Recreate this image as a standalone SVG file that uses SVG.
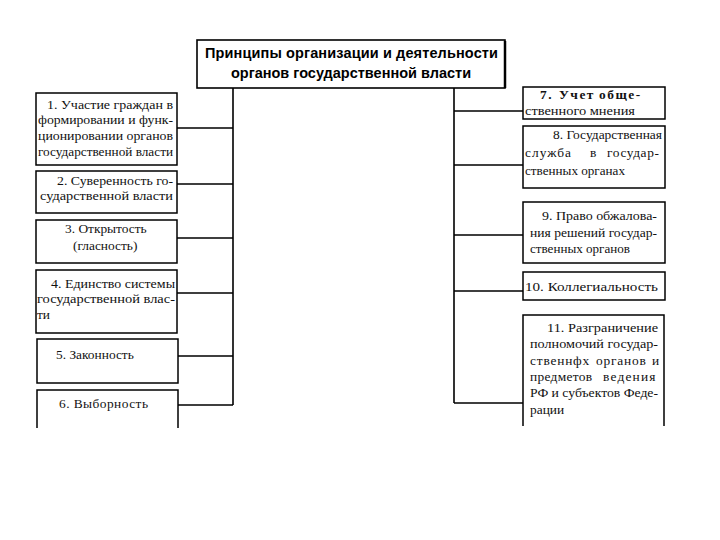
<svg xmlns="http://www.w3.org/2000/svg" width="720" height="540" viewBox="0 0 720 540">
<style>
.bx{fill:#fff;stroke:#000;stroke-width:1.5}
.ln{fill:none;stroke:#000;stroke-width:1.6}
.t{font-family:"Liberation Serif","Times New Roman",serif;font-size:13.4px;fill:#111}
.tt{font-family:"Liberation Sans",Arial,sans-serif;font-size:14.5px;font-weight:bold;fill:#000}
</style>
<rect width="720" height="540" fill="#fff"/>
<g id="connectors">
<path class="ln" d="M233,88 V405 M177,128 H233 M177,184 H233 M177,238 H233 M177,293 H233 M178,356 H233 M178,405 H233"/>
<path class="ln" d="M454,88 V403 M454,111 H523 M454,165 H523 M454,235 H523 M454,291 H523 M454,403 H523"/>
</g>
<g id="title">
<rect x="197" y="40" width="308" height="48" fill="#fff" stroke="#000" stroke-width="1.6"/>
<line x1="505" y1="41" x2="505" y2="88" stroke="#000" stroke-width="2.5"/>
<text class="tt" x="205" y="58" textLength="293" lengthAdjust="spacing">Принципы организации и деятельности</text>
<text class="tt" x="351" y="78" text-anchor="middle">органов государственной власти</text>
</g>
<g id="n1">
<rect class="bx" x="36" y="93" width="141" height="72"/>
<text class="t" x="47" y="109" textLength="126" lengthAdjust="spacingAndGlyphs">1. Участие граждан в</text>
<text class="t" x="38" y="124" textLength="135" lengthAdjust="spacingAndGlyphs">формировании и функ-</text>
<text class="t" x="38" y="140" textLength="135" lengthAdjust="spacingAndGlyphs">ционировании органов</text>
<text class="t" x="38" y="156" textLength="135" lengthAdjust="spacingAndGlyphs">государственной власти</text>
</g>
<g id="n2">
<rect class="bx" x="36" y="171" width="141" height="42"/>
<text class="t" x="57" y="185" textLength="116" lengthAdjust="spacingAndGlyphs">2. Суверенность го-</text>
<text class="t" x="40" y="200" textLength="133" lengthAdjust="spacingAndGlyphs">сударственной власти</text>
</g>
<g id="n3">
<rect class="bx" x="36" y="220" width="141" height="43"/>
<text class="t" x="65" y="233">3. Открытость</text>
<text class="t" x="73" y="250">(гласность)</text>
</g>
<g id="n4">
<rect class="bx" x="36" y="270" width="141" height="63"/>
<text class="t" x="51" y="288" textLength="124" lengthAdjust="spacingAndGlyphs">4. Единство системы</text>
<text class="t" x="37" y="303" textLength="138" lengthAdjust="spacingAndGlyphs">государственной влас-</text>
<text class="t" x="37" y="319">ти</text>
</g>
<g id="n5">
<rect class="bx" x="37" y="339" width="141" height="44"/>
<text class="t" x="56" y="359">5. Законность</text>
</g>
<g id="n6">
<path class="bx" d="M37,428 V390 H178 V428"/>
<text class="t" x="59" y="408" textLength="89" lengthAdjust="spacing">6.  Выборность</text>
</g>
<g id="n7">
<rect class="bx" x="523" y="87" width="142" height="32"/>
<text class="t" y="99" font-weight="bold" letter-spacing="1.5"><tspan x="540">7.</tspan><tspan x="559">Учет</tspan><tspan x="599">обще-</tspan></text>
<text class="t" x="525" y="115" font-size="12.5px" textLength="110" lengthAdjust="spacingAndGlyphs">ственного мнения</text>
</g>
<g id="n8">
<rect class="bx" x="523" y="126" width="142" height="62"/>
<text class="t" x="553" y="139" textLength="109" lengthAdjust="spacingAndGlyphs">8. Государственная</text>
<text class="t" y="157"><tspan x="525" letter-spacing="1">служба</tspan><tspan x="590">в</tspan><tspan x="607" letter-spacing="0.6">государ-</tspan></text>
<text class="t" x="525" y="175" font-size="12px" textLength="100" lengthAdjust="spacingAndGlyphs">ственных органах</text>
</g>
<g id="n9">
<rect class="bx" x="523" y="202" width="142" height="61"/>
<text class="t" x="542" y="220" textLength="115" lengthAdjust="spacingAndGlyphs">9. Право обжалова-</text>
<text class="t" x="530" y="237" textLength="127" lengthAdjust="spacingAndGlyphs">ния решений государ-</text>
<text class="t" x="530" y="253" textLength="100" lengthAdjust="spacingAndGlyphs">ственных органов</text>
</g>
<g id="n10">
<rect class="bx" x="523" y="272" width="142" height="28"/>
<text class="t" x="525" y="291" textLength="133" lengthAdjust="spacingAndGlyphs">10. Коллегиальность</text>
</g>
<g id="n11">
<path class="bx" d="M523,426 V315 H664 V426"/>
<text class="t" x="547" y="332" textLength="111" lengthAdjust="spacingAndGlyphs">11. Разграничение</text>
<text class="t" x="530" y="348" textLength="128" lengthAdjust="spacingAndGlyphs">полномочий государ-</text>
<text class="t" y="365"><tspan x="530" letter-spacing="0.8">ственнфх</tspan><tspan x="596" letter-spacing="0.8">органов</tspan><tspan x="652">и</tspan></text>
<text class="t" y="381"><tspan x="530" letter-spacing="0.3">предметов</tspan><tspan x="603" letter-spacing="1.2">ведения</tspan></text>
<text class="t" x="530" y="397" textLength="128" lengthAdjust="spacingAndGlyphs">РФ и субъектов Феде-</text>
<text class="t" x="530" y="414">рации</text>
</g>
</svg>
